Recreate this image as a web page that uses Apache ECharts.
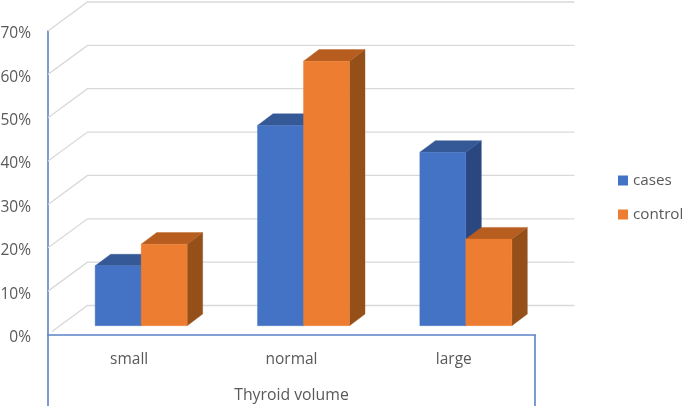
<!DOCTYPE html>
<html>
<head>
<meta charset="utf-8">
<style>html,body{margin:0;padding:0;background:#fff}#c{width:685px;height:406px}</style>
<script src="https://cdn.jsdelivr.net/npm/echarts@6/dist/echarts.min.js"></script>
</head>
<body>
<div id="c"></div>
<script>
const categories = ['small', 'normal', 'large'];
const cases = [13.8, 46.2, 40];
const control = [18.8, 61, 20];
const yTicks = [0, 10, 20, 30, 40, 50, 60, 70];

const WALL = [39.5, -29];     // depth of the back wall in the oblique projection
const PLANE = [12, -8.8];     // where the bars stand within that depth
const DEPTH = [15.5, -11.6];  // depth of each bar
const BAR_W = 46;

function barSeries(name, data, side, front, top, dark) {
  return {
    name, type: 'custom', z: 3 + side,
    itemStyle: { color: front },
    data: data.map((v, i) => [i, v]),
    renderItem(params, api) {
      const base = api.coord([api.value(0), 0]);
      const head = api.coord([api.value(0), api.value(1)]);
      const x0 = base[0] + PLANE[0] + (side === 0 ? -BAR_W : 0);
      const x1 = x0 + BAR_W;
      const yb = base[1] + PLANE[1];
      const yt = head[1] + PLANE[1];
      const [dx, dy] = DEPTH;
      const poly = (points, fill) => ({
        type: 'polygon', shape: { points },
        style: { fill, stroke: fill, lineWidth: 0.4 }
      });
      return {
        type: 'group',
        children: [
          poly([[x1, yb], [x1 + dx, yb + dy], [x1 + dx, yt + dy], [x1, yt]], dark),
          poly([[x0, yt], [x0 + dx, yt + dy], [x1 + dx, yt + dy], [x1, yt]], top),
          poly([[x0, yb], [x1, yb], [x1, yt], [x0, yt]], front)
        ]
      };
    }
  };
}

const option = {
  animation: false,
  backgroundColor: '#fff',
  textStyle: { fontFamily: 'Open Sans' },
  grid: { left: 48, top: 31, width: 487, height: 303.5, outerBoundsMode: 'none' },
  legend: {
    orient: 'vertical', left: 618, top: 173, padding: 0,
    data: ['cases', 'control'],
    icon: 'rect', itemWidth: 10, itemHeight: 10, itemGap: 19, itemStyle: {},
    textStyle: { color: '#595959', fontSize: 15.2, fontFamily: 'Open Sans' },
    selectedMode: false
  },
  xAxis: {
    type: 'category', data: categories,
    name: 'Thyroid volume', nameLocation: 'middle', nameGap: 53,
    nameTextStyle: { color: '#595959', fontSize: 15.8 },
    axisLine: { lineStyle: { color: '#5B82C8', width: 1.6 } },
    axisTick: { show: false },
    axisLabel: { color: '#595959', fontSize: 15.5, margin: 17 }
  },
  yAxis: {
    type: 'value', min: 0, max: 70, interval: 10,
    axisLine: { show: true, lineStyle: { color: '#5B82C8', width: 1.6 } },
    axisTick: { show: false },
    splitLine: { show: false },
    axisLabel: { color: '#595959', fontSize: 15.5, margin: 17, verticalAlign: 'top', lineHeight: 6, formatter: '{value}%' }
  },
  series: [
    {
      type: 'custom', name: 'gridlines', z: 1, silent: true,
      data: yTicks.map(t => [0, t]),
      renderItem(params, api) {
        const y = api.coord([0, api.value(1)])[1];
        const cs = params.coordSys;
        const startInset = api.value(1) === 0 ? 4 : 0;
        const k = startInset / WALL[0];
        return {
          type: 'polyline',
          shape: { points: [
            [cs.x + startInset, y + WALL[1] * k],
            [cs.x + WALL[0], y + WALL[1]],
            [cs.x + cs.width + WALL[0], y + WALL[1]]
          ] },
          style: { fill: null, stroke: '#D9D9D9', lineWidth: 1.3 }
        };
      }
    },
    {
      type: 'custom', name: 'axisFrame', z: 2, silent: true,
      data: [[0, 0]],
      renderItem(params, api) {
        const cs = params.coordSys;
        const yb = cs.y + cs.height;
        const style = { stroke: '#5B82C8', lineWidth: 1.6 };
        return {
          type: 'group',
          children: [
            { type: 'line', shape: { x1: cs.x, y1: yb, x2: cs.x, y2: api.getHeight() }, style },
            { type: 'line', shape: { x1: cs.x + cs.width, y1: yb, x2: cs.x + cs.width, y2: api.getHeight() }, style }
          ]
        };
      }
    },
    barSeries('cases', cases, 0, '#4472C4', '#355896', '#2A4780'),
    barSeries('control', control, 1, '#ED7D31', '#B65D1F', '#95501A')
  ]
};
echarts.init(document.getElementById('c'), null, { renderer: 'canvas' }).setOption(option);
</script>
</body>
</html>
